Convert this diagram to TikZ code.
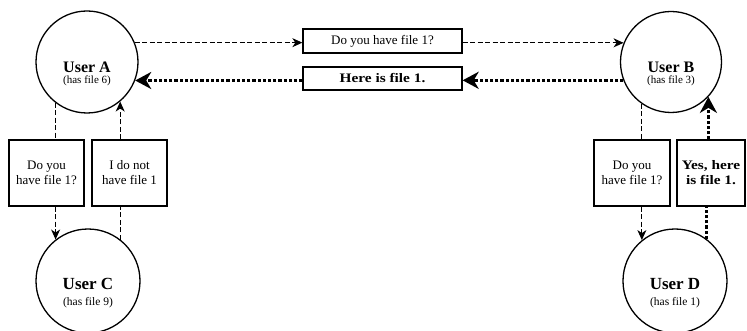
\documentclass[tikz,border=0pt]{standalone}
\usepackage{fontspec}
\setmainfont{Liberation Serif}
\usetikzlibrary{arrows.meta}
\newcommand{\widebf}[1]{\scalebox{1.18}[1]{\bfseries #1}}
\begin{document}
\begin{tikzpicture}[x=1pt,y=-1pt,
  user/.style={circle,draw,line width=1.3pt,minimum size=#1,inner sep=0pt},
  msg/.style={draw,line width=1.3pt,inner sep=0pt,align=center,font=\fontsize{13}{15}\selectfont},
  uname/.style={font=\bfseries\fontsize{16}{18}\selectfont,inner sep=0pt},
  ufile/.style={font=\fontsize{11}{13}\selectfont,inner sep=0pt},
  dline/.style={line width=1.1pt,dash pattern=on 5pt off 2.5pt},
  tline/.style={line width=3pt,dash pattern=on 3.2pt off 2pt},
  darr/.style={dline,-{Stealth[length=10pt,width=9pt,inset=3pt]}},
  tarr/.style={tline,-{Stealth[length=16pt,width=17pt,inset=5pt]}}
]
\useasboundingbox (0,0) rectangle (747,331);

% users
\node[user=102pt] (A) at (87,62) {};
\node[uname] (At) at (87,67) {User A};
\node[ufile] (As) at (87,81) {(has file 6)};

\node[user=101pt] (B) at (671,62) {};
\node[uname] (Bt) at (671,67) {User B};
\node[ufile] (Bs) at (671,81) {(has file 3)};

\node[user=104pt] (C) at (88,281) {};
\node[uname,font=\bfseries\fontsize{17}{19}\selectfont] (Ct) at (88,284) {User C};
\node[ufile,font=\fontsize{11.5}{13}\selectfont] (Cs) at (88,303) {(has file 9)};

\node[user=104pt] (D) at (675,281) {};
\node[uname,font=\bfseries\fontsize{17}{19}\selectfont] (Dt) at (675,284) {User D};
\node[ufile,font=\fontsize{11.5}{13}\selectfont] (Ds) at (675,303) {(has file 1)};

% message boxes
\node[msg,minimum width=159pt,minimum height=24pt] (q1) at (382.5,41) {Do you have file 1?};
\node[msg,minimum width=159pt,minimum height=23pt] (q2) at (382.5,78.5) {\widebf{Here is file 1.}};

\node[msg,minimum width=75pt,minimum height=66pt] (b1) at (46.5,173) {Do you\\have file 1?};
\node[msg,minimum width=75pt,minimum height=66pt] (b2) at (129.5,173) {I do not\\have file 1};
\node[msg,minimum width=76pt,minimum height=66pt] (b3) at (632,173) {Do you\\have file 1?};
\node[msg,minimum width=68pt,minimum height=66pt] (b4) at (711,173) {\widebf{Yes, here}\\\widebf{is file 1.}};

% A <-> B
\draw[darr] (A.22) -- (A.22 -| q1.west);
\draw[darr] (q1.east |- B.158) -- (B.158);
\draw[tarr] (B.201) -- (B.201 -| q2.east);
\draw[tarr] (q2.west |- A.-21) -- (A.-21);

% A <-> C
\draw[dline] (A.232.6) -- (A.232.6 |- b1.north);
\draw[darr] (b1.south -| C.128) -- (C.128);
\draw[dline] (C.52) -- (C.52 |- b2.south);
\draw[darr] (b2.north -| A.310.3) -- (A.310.3);

% B <-> D
\draw[dline] (B.235) -- (B.235 |- b3.north);
\draw[darr] (b3.south -| D.129.4) -- (D.129.4);
\draw[tline] (D.53.4) -- (D.53.4 |- b4.south);
\draw[tarr] (b4.north -| B.317) -- (B.317);
\end{tikzpicture}
\end{document}
